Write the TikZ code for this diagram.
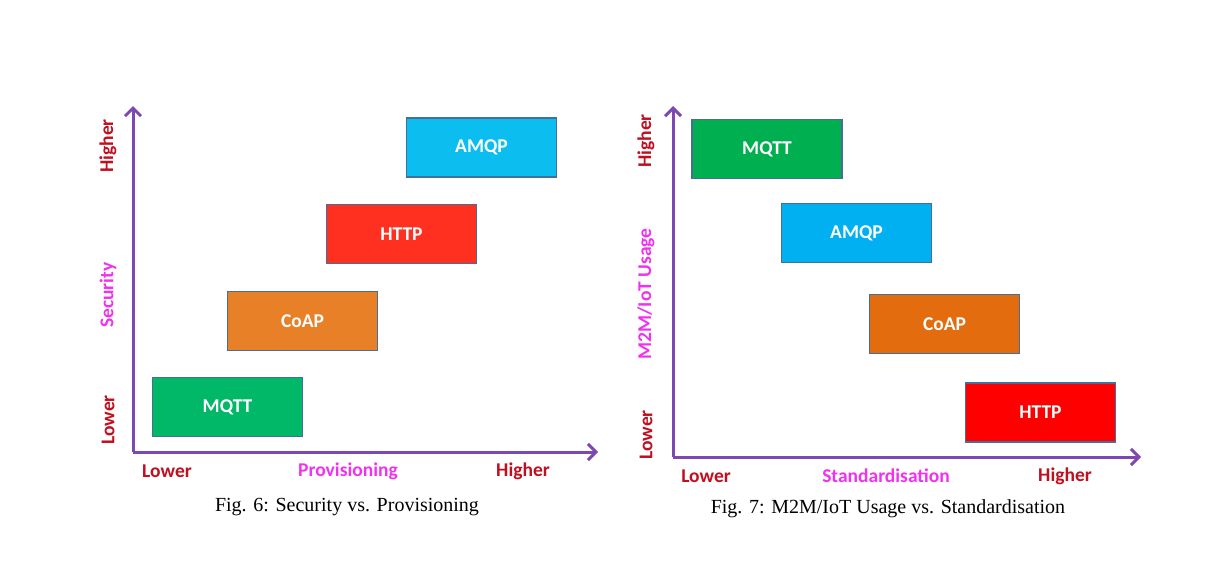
\documentclass[tikz,border=0pt]{standalone}
\usepackage{fontspec}
\setmainfont{Carlito}
\newfontfamily\capfont{Liberation Serif}
\usetikzlibrary{arrows.meta}
\definecolor{axispurple}{RGB}{125,72,178}
\definecolor{lblred}{RGB}{192,16,32}
\definecolor{lblpink}{RGB}{240,50,240}
\definecolor{boxedge}{RGB}{70,110,150}
\definecolor{cyanL}{RGB}{12,190,240}
\definecolor{redL}{RGB}{255,48,32}
\definecolor{orangeL}{RGB}{232,128,40}
\definecolor{greenL}{RGB}{0,184,104}
\definecolor{cyanR}{RGB}{0,176,240}
\definecolor{redR}{RGB}{255,0,0}
\definecolor{orangeR}{RGB}{226,108,14}
\definecolor{greenR}{RGB}{0,176,80}
\tikzset{
  proto/.style={draw=boxedge, line width=1.6pt, minimum width=150pt, minimum height=59pt,
    inner sep=0pt, text=white, font=\fontsize{19.5}{19.5}\selectfont\bfseries},
  axis/.style={draw=axispurple, line width=3pt, -{Straight Barb[length=8pt,width=16pt,line width=3pt]}},
  endlbl/.style={text=lblred, font=\fontsize{19.5}{19.5}\selectfont\bfseries, inner sep=0pt},
  ttllbl/.style={text=lblpink, font=\fontsize{19.5}{19.5}\selectfont\bfseries, inner sep=0pt},
  caption/.style={font=\capfont\fontsize{20}{20}\selectfont, inner sep=0pt}
}
\begin{document}
\begin{tikzpicture}[x=1pt,y=-1pt]
\useasboundingbox[fill=white] (0,0) rectangle (1215,565);
% ---------- Fig. 6 ----------
\coordinate (o1) at (133,452);
\coordinate (ytip1) at (133,106);
\coordinate (xtip1) at (598,452);
\draw[axis] (o1) -- (ytip1);
\draw[axis] (o1) -- (xtip1);
\node[proto, fill=cyanL] (amqp1) at (481.5,147.5) {AMQP};
\node[proto, fill=redL] (http1) at (401.5,234) {HTTP};
\node[proto, fill=orangeL] (coap1) at (302.5,321) {CoAP};
\node[proto, fill=greenL] (mqtt1) at (227.5,407) {MQTT};
\node[endlbl, rotate=90] (yhi1) at (108,146) {Higher};
\node[ttllbl, rotate=90] (ytl1) at (108,295) {Security};
\node[endlbl, rotate=90] (ylo1) at (108,420) {Lower};
\node[endlbl] (xlo1) at (167,471) {Lower};
\node[ttllbl] (xtl1) at (348,471) {Provisioning};
\node[endlbl] (xhi1) at (523,471) {Higher};
\node[caption] (cap1) at (347,507) {Fig. 6: Security vs. Provisioning};
% ---------- Fig. 7 ----------
\coordinate (o2) at (673,457);
\coordinate (ytip2) at (673,106);
\coordinate (xtip2) at (1141,457);
\draw[axis] (o2) -- (ytip2);
\draw[axis] (o2) -- (xtip2);
\node[proto, fill=greenR] (mqtt2) at (767,149) {MQTT};
\node[proto, fill=cyanR] (amqp2) at (856.5,233) {AMQP};
\node[proto, fill=orangeR] (coap2) at (944.5,324) {CoAP};
\node[proto, fill=redR] (http2) at (1040.5,412.5) {HTTP};
\node[endlbl, rotate=90] (yhi2) at (646,141) {Higher};
\node[ttllbl, rotate=90] (ytl2) at (646,294) {M2M/IoT Usage};
\node[endlbl, rotate=90] (ylo2) at (646,435) {Lower};
\node[endlbl] (xlo2) at (706,476) {Lower};
\node[ttllbl] (xtl2) at (886,476) {Standardisation};
\node[endlbl] (xhi2) at (1065,476) {Higher};
\node[caption] (cap2) at (888,509) {Fig. 7: M2M/IoT Usage vs. Standardisation};
\end{tikzpicture}
\end{document}
